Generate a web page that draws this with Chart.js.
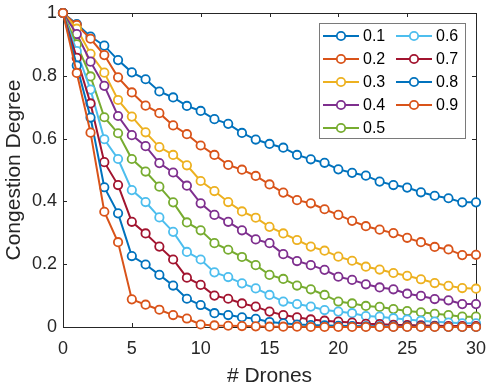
<!DOCTYPE html>
<html>
<head>
<meta charset="utf-8">
<script src="https://cdn.jsdelivr.net/npm/chart.js@4.4.0/dist/chart.umd.min.js"></script>
<style>
  html, body { margin: 0; padding: 0; background: #ffffff; }
  #chartCanvas { display: block; }
</style>
</head>
<body>
<canvas id="chartCanvas" width="487" height="387"></canvas>
<script>
// x values: number of drones
var drones = [0, 1, 2, 3, 4, 5, 6, 7, 8, 9, 10, 11, 12, 13, 14, 15, 16, 17, 18, 19, 20, 21, 22, 23, 24, 25, 26, 27, 28, 29, 30];

// series names (legend) and values
var seriesNames = ["0.1", "0.2", "0.3", "0.4", "0.5", "0.6", "0.7", "0.8", "0.9"];

var deg01 = [1, 0.965, 0.925, 0.896, 0.850, 0.811, 0.789, 0.750, 0.731, 0.704, 0.688, 0.662, 0.647, 0.618, 0.597, 0.583, 0.571, 0.548, 0.534, 0.523, 0.502, 0.491, 0.482, 0.463, 0.452, 0.444, 0.429, 0.418, 0.410, 0.397, 0.397];
var deg02 = [1, 0.962, 0.918, 0.866, 0.795, 0.747, 0.705, 0.681, 0.642, 0.614, 0.578, 0.548, 0.516, 0.501, 0.481, 0.454, 0.428, 0.404, 0.394, 0.375, 0.357, 0.338, 0.321, 0.310, 0.299, 0.284, 0.270, 0.255, 0.247, 0.229, 0.230];
var deg03 = [1, 0.950, 0.870, 0.810, 0.723, 0.670, 0.620, 0.573, 0.548, 0.515, 0.465, 0.433, 0.398, 0.368, 0.348, 0.319, 0.298, 0.277, 0.256, 0.243, 0.224, 0.211, 0.192, 0.183, 0.172, 0.163, 0.152, 0.140, 0.131, 0.124, 0.122];
var deg04 = [1, 0.933, 0.845, 0.768, 0.672, 0.611, 0.576, 0.522, 0.492, 0.450, 0.394, 0.357, 0.335, 0.308, 0.279, 0.267, 0.232, 0.210, 0.197, 0.182, 0.160, 0.150, 0.136, 0.126, 0.120, 0.106, 0.099, 0.089, 0.085, 0.073, 0.073];
var deg05 = [1, 0.900, 0.798, 0.668, 0.617, 0.535, 0.495, 0.447, 0.397, 0.333, 0.308, 0.267, 0.246, 0.223, 0.197, 0.166, 0.153, 0.132, 0.120, 0.102, 0.081, 0.075, 0.067, 0.064, 0.057, 0.051, 0.047, 0.042, 0.038, 0.033, 0.033];
var deg06 = [1, 0.879, 0.756, 0.598, 0.535, 0.436, 0.398, 0.349, 0.303, 0.239, 0.215, 0.174, 0.159, 0.139, 0.123, 0.102, 0.081, 0.073, 0.065, 0.054, 0.049, 0.044, 0.035, 0.033, 0.028, 0.024, 0.020, 0.017, 0.014, 0.012, 0.012];
var deg07 = [1, 0.857, 0.712, 0.525, 0.452, 0.335, 0.298, 0.256, 0.215, 0.157, 0.134, 0.100, 0.090, 0.075, 0.065, 0.049, 0.038, 0.031, 0.024, 0.020, 0.017, 0.014, 0.010, 0.009, 0.007, 0.006, 0.005, 0.004, 0.003, 0.003, 0.003];
var deg08 = [1, 0.833, 0.667, 0.445, 0.362, 0.226, 0.199, 0.166, 0.132, 0.090, 0.070, 0.044, 0.038, 0.031, 0.026, 0.016, 0.012, 0.008, 0.006, 0.005, 0.004, 0.003, 0.002, 0.002, 0.001, 0.001, 0.001, 0.001, 0, 0, 0];
var deg09 = [1, 0.809, 0.619, 0.367, 0.270, 0.088, 0.071, 0.055, 0.038, 0.027, 0.008, 0.005, 0.004, 0.003, 0.002, 0.001, 0.001, 0.001, 0, 0, 0, 0, 0, 0, 0, 0, 0, 0, 0, 0, 0];

var allSeries = [deg01, deg02, deg03, deg04, deg05, deg06, deg07, deg08, deg09];

// tick labels
var xTickLabels = ["0", "5", "10", "15", "20", "25", "30"];
var yTickLabels = ["0", "0.2", "0.4", "0.6", "0.8", "1"];

// matlab default colour order
var colors = ["#0072BD", "#D95319", "#EDB120", "#7E2F8E", "#77AC30", "#4DBEEE", "#A2142F", "#0072BD", "#D95319"];

var fontFamily = "'Liberation Sans', Arial, Helvetica, sans-serif";
var axisColor = "#262626";

// box around the axes with inward ticks on all four sides
var framePlugin = {
  id: "frame",
  beforeDatasetsDraw: function (chart) {
    var ctx = chart.ctx;
    var a = chart.chartArea;
    var xs = chart.scales.x;
    var ys = chart.scales.y;
    var tick = 4;
    ctx.save();
    ctx.strokeStyle = axisColor;
    ctx.lineWidth = 1;
    ctx.beginPath();
    ctx.rect(a.left + 0.5, a.top + 0.5, a.right - a.left, a.bottom - a.top);
    xs.ticks.forEach(function (t) {
      var px = Math.round(xs.getPixelForValue(t.value)) + 0.5;
      ctx.moveTo(px, a.bottom);
      ctx.lineTo(px, a.bottom - tick);
      ctx.moveTo(px, a.top);
      ctx.lineTo(px, a.top + tick);
    });
    ys.ticks.forEach(function (t) {
      var py = Math.round(ys.getPixelForValue(t.value)) + 0.5;
      ctx.moveTo(a.left, py);
      ctx.lineTo(a.left + tick, py);
      ctx.moveTo(a.right, py);
      ctx.lineTo(a.right - tick, py);
    });
    ctx.stroke();
    ctx.restore();
  },
};

// two column legend (column-major), like the matlab one
var legendPlugin = {
  id: "twoColLegend",
  afterDraw: function (chart) {
    var ctx = chart.ctx;
    var a = chart.chartArea;
    var ds = chart.data.datasets;
    var rows = 5;
    var boxX = a.right - 157, boxY = a.top + 10, boxW = 146, boxH = 115;
    var rowH = 23;
    var colW = 73;
    ctx.save();
    ctx.fillStyle = "#ffffff";
    ctx.fillRect(boxX, boxY, boxW, boxH);
    ctx.strokeStyle = "#7a7a7a";
    ctx.lineWidth = 1;
    ctx.strokeRect(boxX + 0.5, boxY + 0.5, boxW, boxH);
    ctx.font = "16px " + fontFamily;
    ctx.textBaseline = "middle";
    ctx.textAlign = "left";
    for (var i = 0; i < ds.length; i++) {
      var col = Math.floor(i / rows);
      var row = i % rows;
      var x0 = boxX + 4 + col * colW;
      var y0 = boxY + 13 + row * rowH;
      ctx.strokeStyle = ds[i].borderColor;
      ctx.lineWidth = 2;
      ctx.beginPath();
      ctx.moveTo(x0, y0);
      ctx.lineTo(x0 + 36, y0);
      ctx.stroke();
      ctx.beginPath();
      ctx.arc(x0 + 18, y0, 4.2, 0, Math.PI * 2);
      ctx.fillStyle = "#ffffff";
      ctx.fill();
      ctx.lineWidth = 1.8;
      ctx.stroke();
      ctx.fillStyle = "#000000";
      ctx.fillText(ds[i].label, x0 + 40, y0 + 1);
    }
    ctx.restore();
  },
};

var datasets = [];
for (var i = 0; i < allSeries.length; i++) {
  datasets.push({
    label: seriesNames[i],
    data: allSeries[i].map(function (v, k) {
      return { x: drones[k], y: v };
    }),
    borderColor: colors[i],
    backgroundColor: "#ffffff",
    borderWidth: 2,
    pointRadius: 4.2,
    pointBorderWidth: 1.8,
    pointBackgroundColor: "#ffffff",
    pointBorderColor: colors[i],
    pointHoverRadius: 4.2,
    tension: 0,
    clip: false,
    order: allSeries.length - i, // later series drawn on top
  });
}

var ctx = document.getElementById("chartCanvas").getContext("2d");
var droneChart = new Chart(ctx, {
  type: "line",
  data: {
    labels: drones,
    datasets: datasets,
  },
  options: {
    responsive: false,
    animation: false,
    layout: {
      padding: { top: 13, right: 11, left: 0, bottom: 0 },
    },
    plugins: {
      legend: { display: false },
      tooltip: { enabled: false },
      title: { display: false },
    },
    scales: {
      x: {
        type: "linear",
        min: 0,
        max: 30,
        grid: { display: false, drawTicks: false },
        border: { display: false },
        ticks: {
          stepSize: 5,
          padding: 11,
          maxRotation: 0,
          color: axisColor,
          font: { family: fontFamily, size: 18 },
          callback: function (value, index) {
            return xTickLabels[index];
          },
        },
        title: {
          display: true,
          text: "# Drones",
          color: axisColor,
          padding: { top: 0, bottom: 0 },
          font: { family: fontFamily, size: 21, lineHeight: 1.0 },
        },
        afterFit: function (scale) {
          scale.height = 60;
          scale.paddingLeft = 0;
          scale.paddingRight = 0;
        },
      },
      y: {
        type: "linear",
        min: 0,
        max: 1,
        grid: { display: false, drawTicks: false },
        border: { display: false },
        ticks: {
          stepSize: 0.2,
          padding: 6,
          color: axisColor,
          font: { family: fontFamily, size: 18 },
          callback: function (value, index) {
            return yTickLabels[index];
          },
        },
        title: {
          display: true,
          text: "Congestion Degree",
          color: axisColor,
          padding: { top: 4, bottom: 0 },
          font: { family: fontFamily, size: 21, lineHeight: 1.0 },
        },
        afterFit: function (scale) {
          scale.width = 63;
          scale.paddingTop = 0;
          scale.paddingBottom = 0;
        },
      },
    },
  },
  plugins: [framePlugin, legendPlugin],
});
</script>
</body>
</html>
